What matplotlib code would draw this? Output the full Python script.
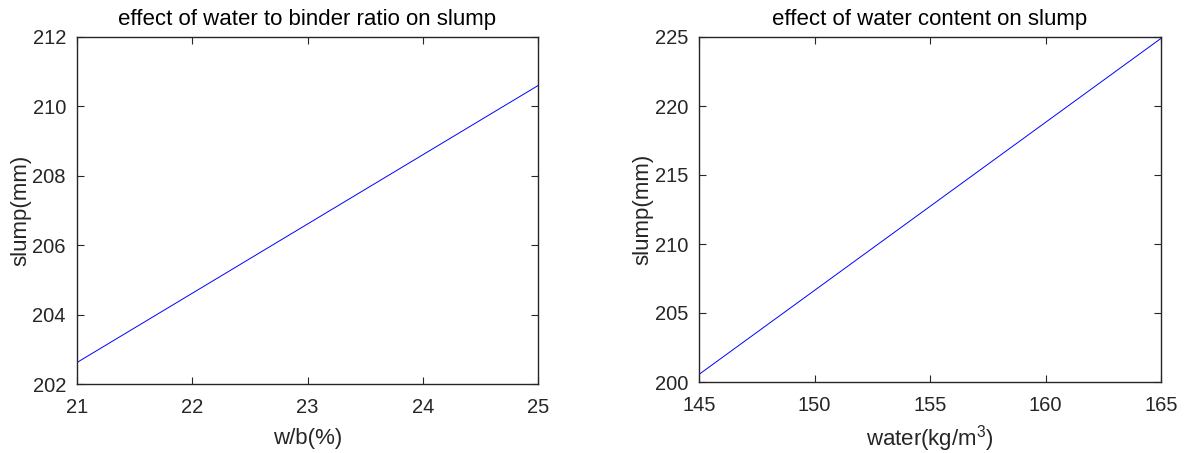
import matplotlib.pyplot as plt
import numpy as np

plt.rcParams['font.family'] = ['Liberation Sans', 'DejaVu Sans']
plt.rcParams['mathtext.fontset'] = 'custom'
plt.rcParams['mathtext.rm'] = 'Liberation Sans'

# left panel: w/b ratio vs slump
wb = [21, 25]
slump_wb = [202.62, 210.6]

# right panel: water content vs slump
water = [145, 165]
slump_water = [200.55, 224.9]

W, H = 1188, 453
fig = plt.figure(figsize=(W / 100, H / 100), dpi=100)

def style(ax):
    ax.tick_params(direction='in', top=True, right=True, length=5, width=0.8,
                   labelsize=14.5, labelcolor='#262626', color='#262626')
    ax.tick_params(axis='x', pad=10)
    ax.tick_params(axis='y', pad=8)
    for s in ax.spines.values():
        s.set_linewidth(1.0)
        s.set_color('#262626')

ax1 = fig.add_axes([77 / W, 1 - 384 / H, (538 - 77) / W, (384 - 37) / H])
ax1.plot(wb, slump_wb, color='#0000ff', lw=0.7)
ax1.set_xlim(21, 25)
ax1.set_ylim(202, 212)
ax1.set_xticks(np.arange(21, 26, 1))
ax1.set_yticks(np.arange(202, 213, 2))
ax1.set_xlabel('w/b(%)', fontsize=16, color='#262626', labelpad=8)
ax1.set_ylabel('slump(mm)', fontsize=16, color='#262626', labelpad=1)
ax1.set_title('effect of water to binder ratio on slump', fontsize=16, color='black', pad=9)
style(ax1)

ax2 = fig.add_axes([699 / W, 1 - 382 / H, (1161 - 699) / W, (382 - 37) / H])
ax2.plot(water, slump_water, color='#0000ff', lw=0.7)
ax2.set_xlim(145, 165)
ax2.set_ylim(200, 225)
ax2.set_xticks(np.arange(145, 166, 5))
ax2.set_yticks(np.arange(200, 226, 5))
ax2.set_xlabel('water(kg/m$^3$)', fontsize=16, color='#262626', labelpad=6)
ax2.set_ylabel('slump(mm)', fontsize=16, color='#262626', labelpad=1)
ax2.set_title('effect of water content on slump', fontsize=16, color='black', pad=9)
style(ax2)

fig.savefig('out.png', dpi=100)
